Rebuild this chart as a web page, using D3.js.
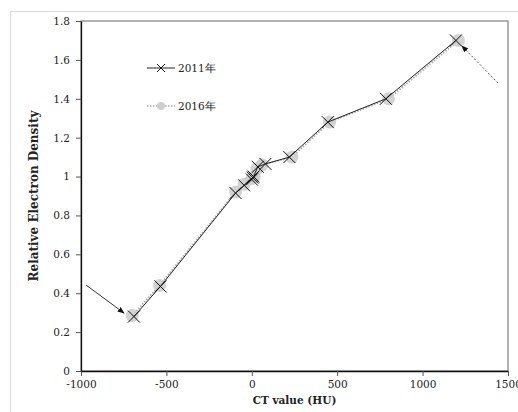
<!DOCTYPE html>
<html>
<head>
<meta charset="utf-8">
<script src="https://cdn.jsdelivr.net/npm/d3@7"></script>
<style>
  body { margin: 0; background: #fff; }
  svg text { font-family: "DejaVu Serif", "Liberation Serif", serif; fill: #222; }
  .axisTitle { font-weight: bold; }
  .tick text { font-size: 10.5px; }
</style>
</head>
<body>
<div id="chart"></div>
<script>
// 2011 measurements (HU, relative electron density)
var ct2011 = [-690, -535, -95, -45, 0, 5, 10, 35, 80, 220, 445, 785, 1195];
var red2011 = [0.28, 0.435, 0.915, 0.955, 0.985, 0.995, 1.0, 1.05, 1.065, 1.1, 1.28, 1.40, 1.70];

// 2016 measurements
var ct2016 = [-700, -540, -95, -45, 0, 15, 30, 60, 235, 455, 800, 1210];
var red2016 = [0.285, 0.44, 0.92, 0.96, 0.99, 1.0, 1.04, 1.06, 1.10, 1.28, 1.40, 1.70];

var xTicks = [-1000, -500, 0, 500, 1000, 1500];
var yTicks = [0, 0.2, 0.4, 0.6, 0.8, 1, 1.2, 1.4, 1.6, 1.8];

// annotation arrows, [x, y] in data units
var arrows = [
  {from: [-970, 0.442], to: [-748, 0.298], dashed: false},
  {from: [1441, 1.481], to: [1230, 1.672], dashed: true}
];

var W = 518, H = 412;
var margin = {top: 21, right: 10, bottom: 41, left: 81};
var width = 508 - margin.left, height = 371 - margin.top;

var svg = d3.select("#chart").append("svg")
    .attr("width", W).attr("height", H);

// outer chart border
svg.append("rect")
    .attr("x", 10.5).attr("y", 11.5)
    .attr("width", 600).attr("height", 600)
    .attr("fill", "none").attr("stroke", "#d9d9d9");

var g = svg.append("g")
    .attr("transform", "translate(" + margin.left + "," + margin.top + ")");

var x = d3.scaleLinear().domain([-1000, 1500]).range([0, width]);
var y = d3.scaleLinear().domain([0, 1.8]).range([height, 0]);

// plot area frame (grey top/right)
g.append("rect")
    .attr("x", 0).attr("y", 0)
    .attr("width", width).attr("height", height)
    .attr("fill", "none").attr("stroke", "#999").attr("stroke-width", 1.5);

var defs = svg.append("defs");
defs.append("marker")
    .attr("id", "arrowhead")
    .attr("viewBox", "0 0 10 10")
    .attr("refX", 9).attr("refY", 5)
    .attr("markerWidth", 7).attr("markerHeight", 7)
    .attr("orient", "auto")
  .append("path")
    .attr("d", "M0,1 L10,5 L0,9 z")
    .attr("fill", "#111");

// axes (plain hyphen for negatives, like the original)
var xAxis = g.append("g")
    .attr("transform", "translate(0," + height + ")")
    .call(d3.axisBottom(x).tickValues(xTicks).tickSizeInner(5).tickSizeOuter(0).tickPadding(5)
      .tickFormat(function(d) { return String(d); }));
xAxis.select(".domain").attr("stroke", "#111").attr("stroke-width", 1.3);
xAxis.selectAll(".tick line").attr("stroke", "#555");

var yAxis = g.append("g")
    .call(d3.axisLeft(y).tickValues(yTicks).tickSizeInner(5).tickSizeOuter(0).tickPadding(6)
      .tickFormat(function(d) { return String(+d.toFixed(1)); }));
yAxis.select(".domain").attr("stroke", "#111").attr("stroke-width", 1.3);
yAxis.selectAll(".tick line").attr("stroke", "#555");
svg.selectAll(".tick text").attr("fill", "#222");

// series data
var data2011 = ct2011.map(function(d, i) { return {x: d, y: red2011[i]}; });
var data2016 = ct2016.map(function(d, i) { return {x: d, y: red2016[i]}; });

var line = d3.line()
    .x(function(d) { return x(d.x); })
    .y(function(d) { return y(d.y); });

// 2016: dotted grey line with grey dots
g.append("path")
    .datum(data2016)
    .attr("d", line)
    .attr("fill", "none")
    .attr("stroke", "#aaa")
    .attr("stroke-width", 1.8)
    .attr("stroke-dasharray", "1.5 1.5");

g.selectAll(".dot2016")
    .data(data2016)
  .enter().append("circle")
    .attr("class", "dot2016")
    .attr("cx", function(d) { return x(d.x); })
    .attr("cy", function(d) { return y(d.y); })
    .attr("r", 6.5)
    .attr("fill", "#c8c8c8")
    .attr("fill-opacity", 0.8);

// 2011: solid line with x markers
g.append("path")
    .datum(data2011)
    .attr("d", line)
    .attr("fill", "none")
    .attr("stroke", "#222")
    .attr("stroke-width", 1);

var cross = "M-6,-6L6,6M-6,6L6,-6";
g.selectAll(".x2011")
    .data(data2011)
  .enter().append("path")
    .attr("class", "x2011")
    .attr("transform", function(d) { return "translate(" + x(d.x) + "," + y(d.y) + ")"; })
    .attr("d", cross)
    .attr("stroke", "#111")
    .attr("stroke-width", 1);

// arrows
arrows.forEach(function(a) {
  g.append("line")
    .attr("x1", x(a.from[0])).attr("y1", y(a.from[1]))
    .attr("x2", x(a.to[0])).attr("y2", y(a.to[1]))
    .attr("stroke", a.dashed ? "#555" : "#333")
    .attr("stroke-width", 1)
    .attr("stroke-dasharray", a.dashed ? "2 2" : null)
    .attr("marker-end", "url(#arrowhead)");
});

// legend
var legend = svg.append("g");
legend.append("line")
    .attr("x1", 147).attr("x2", 175).attr("y1", 68).attr("y2", 68)
    .attr("stroke", "#222");
legend.append("path")
    .attr("transform", "translate(161,68)")
    .attr("d", "M-4,-4L4,4M-4,4L4,-4")
    .attr("stroke", "#111");
legend.append("text")
    .attr("x", 178).attr("y", 72)
    .style("font-size", "10.5px")
    .text("2011年");

legend.append("line")
    .attr("x1", 147).attr("x2", 175).attr("y1", 106).attr("y2", 106)
    .attr("stroke", "#aaa").attr("stroke-width", 1.5).attr("stroke-dasharray", "1.5 1.5");
legend.append("circle")
    .attr("cx", 161).attr("cy", 106).attr("r", 4)
    .attr("fill", "#cfcfcf");
legend.append("text")
    .attr("x", 178).attr("y", 110)
    .style("font-size", "10.5px")
    .text("2016年");

// axis titles
svg.append("text")
    .attr("class", "axisTitle")
    .attr("x", margin.left + width / 2).attr("y", 404)
    .attr("text-anchor", "middle")
    .style("font-size", "10.5px")
    .text("CT value (HU)");

svg.append("text")
    .attr("class", "axisTitle")
    .attr("transform", "translate(38," + (margin.top + height / 2) + ") rotate(-90)")
    .attr("text-anchor", "middle")
    .style("font-size", "12px")
    .text("Relative Electron Density");
</script>
</body>
</html>
